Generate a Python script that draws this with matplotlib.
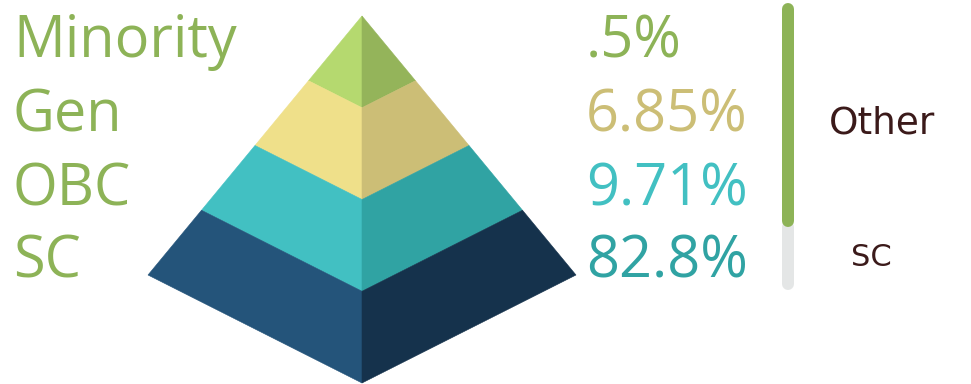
import matplotlib
matplotlib.use("Agg")
import matplotlib.pyplot as plt
from matplotlib.patches import Polygon
import numpy as np

# pyramid tiers, top to bottom
categories = ["Minority", "Gen", "OBC", "SC"]
shares = [0.5, 6.85, 9.71, 82.8]
share_labels = [".5%", "6.85%", "9.71%", "82.8%"]

# side scale: Other vs SC
scale_labels = ["Other", "SC"]
scale_split = [78, 22]

left_colors = ["#b5d96f", "#efe08a", "#42c0c2", "#24547a"]
right_colors = ["#94b45a", "#ccbe76", "#30a3a3", "#15324c"]
value_colors = ["#8db357", "#ccbe76", "#42c0c2", "#30a3a3"]
label_green = "#8db357"

W, H = 971, 384
fig = plt.figure(figsize=(W / 100, H / 100), dpi=100)
ax = fig.add_axes([0, 0, 1, 1])
ax.set_xlim(0, W)
ax.set_ylim(H, 0)
ax.axis("off")

apex = np.array([362.0, 16.0])
base_left = np.array([148.0, 275.0])
base_right = np.array([576.0, 275.0])
base_front = np.array([362.0, 383.0])

n = len(categories)
for i in range(n):
    t0, t1 = i / n, (i + 1) / n
    l0, l1 = apex + t0 * (base_left - apex), apex + t1 * (base_left - apex)
    r0, r1 = apex + t0 * (base_right - apex), apex + t1 * (base_right - apex)
    f0, f1 = apex + t0 * (base_front - apex), apex + t1 * (base_front - apex)
    ax.add_patch(Polygon([l0, f0, f1, l1], closed=True, facecolor=left_colors[i],
                         edgecolor=left_colors[i], linewidth=0.4))
    ax.add_patch(Polygon([f0, r0, r1, f1], closed=True, facecolor=right_colors[i],
                         edgecolor=right_colors[i], linewidth=0.4))

baselines = [57, 132, 205, 278]
for i, name in enumerate(categories):
    ax.text(13, baselines[i], name, fontsize=41.5, family="Open Sans",
            color=label_green, va="baseline", ha="left")
    ax.text(586, baselines[i], share_labels[i], fontsize=41.5, family="Open Sans",
            color=value_colors[i], va="baseline", ha="left")

# vertical scale bar
bar_x, bar_top, bar_bot = 788, 3, 290
cap = 6
split_y = bar_top + (bar_bot - bar_top) * scale_split[0] / sum(scale_split)
lw = 12 * 72 / 100
ax.plot([bar_x, bar_x], [split_y, bar_bot - cap], color="#e4e6e6", lw=lw,
        solid_capstyle="round")
ax.plot([bar_x, bar_x], [bar_top + cap, split_y - cap], color=label_green, lw=lw,
        solid_capstyle="round")

ax.text(882, 124, scale_labels[0], fontsize=27, family="DejaVu Sans",
        color="#3b1a1a", va="center", ha="center")
ax.text(871, 257, scale_labels[1], fontsize=22, family="DejaVu Sans",
        color="#3b1a1a", va="center", ha="center")

fig.savefig("out.png", dpi=100)
